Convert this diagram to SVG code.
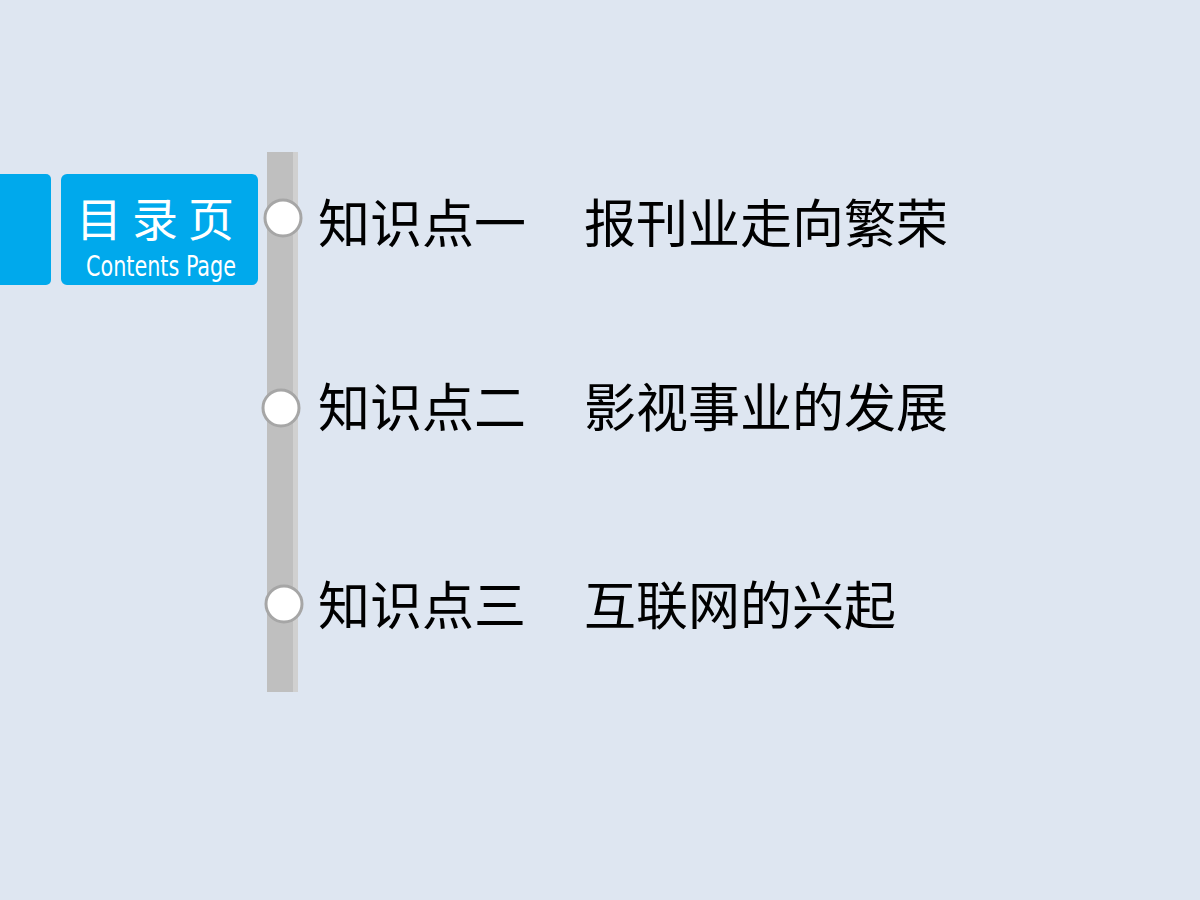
<svg xmlns="http://www.w3.org/2000/svg" width="1200" height="900" viewBox="0 0 1200 900">
<style>
.item{font-family:"Noto Sans CJK SC","Liberation Sans",sans-serif;font-size:52px;fill:#000}
.dot{fill:#fff;stroke:#a6a6a6;stroke-width:3}
</style>
<rect width="1200" height="900" fill="#dee6f1"/>
<g id="tab"><rect x="-10" y="174" width="61" height="111" rx="5" fill="#00a9ec"/></g>
<g id="title">
<rect x="61" y="174" width="197" height="111" rx="6" fill="#00a9ec"/>
<text x="160" y="236" text-anchor="middle" font-family="Noto Sans CJK SC,sans-serif" font-size="46" fill="#fff" letter-spacing="10">目录页</text>
<text x="86" y="276" font-family="Liberation Sans Narrow,DejaVu Sans Condensed,sans-serif" font-size="29" fill="#fff" textLength="150" lengthAdjust="spacingAndGlyphs">Contents Page</text>
</g>
<g id="bar"><rect x="267" y="152" width="31" height="540" fill="#bfbfbf"/><rect x="293" y="152" width="5" height="540" fill="#d0d0d0"/></g>
<g id="n1"><circle class="dot" cx="283" cy="218" r="18"/><text class="item" x="318" y="243">知识点一</text><text class="item" x="584" y="243">报刊业走向繁荣</text></g>
<g id="n2"><circle class="dot" cx="281" cy="408" r="18"/><text class="item" x="318" y="427">知识点二</text><text class="item" x="584" y="427">影视事业的发展</text></g>
<g id="n3"><circle class="dot" cx="284" cy="604" r="18"/><text class="item" x="318" y="625">知识点三</text><text class="item" x="584" y="625">互联网的兴起</text></g>
</svg>
